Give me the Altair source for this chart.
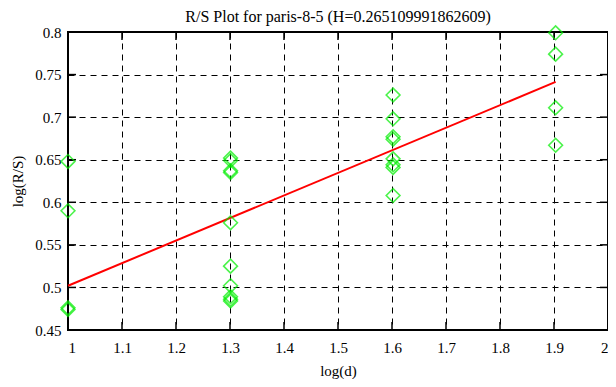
import altair as alt
import pandas as pd

# Data
x_vals = [1.0, 1.0, 1.0, 1.0,
          1.301, 1.301, 1.301, 1.301, 1.301, 1.301, 1.301, 1.301, 1.301, 1.301,
          1.602, 1.602, 1.602, 1.602, 1.602, 1.602, 1.602, 1.602,
          1.903, 1.903, 1.903, 1.903]
y_vals = [0.648, 0.590, 0.476, 0.474,
          0.652, 0.649, 0.637, 0.635, 0.576, 0.525, 0.502, 0.489, 0.486, 0.484,
          0.726, 0.698, 0.677, 0.674, 0.651, 0.644, 0.641, 0.608,
          0.799, 0.774, 0.711, 0.667]
line_x = [1.0, 1.903]
line_y = [0.502, 0.7414]
x_ticks = [1.0, 1.1, 1.2, 1.3, 1.4, 1.5, 1.6, 1.7, 1.8, 1.9, 2.0]
y_ticks = [0.45, 0.5, 0.55, 0.6, 0.65, 0.7, 0.75, 0.8]

pts = pd.DataFrame({"x": x_vals, "y": y_vals})
ln = pd.DataFrame({"x": line_x, "y": line_y})
xt = pd.DataFrame({"t": x_ticks})
yt = pd.DataFrame({"t": y_ticks})

W, H = 540, 298
FONT = "Liberation Serif"

xscale = alt.Scale(domain=[1, 2], nice=False, zero=False)
yscale = alt.Scale(domain=[0.45, 0.8], nice=False, zero=False)

common = dict(grid=True, gridColor="black", gridDash=[6, 5], gridWidth=1,
              ticks=False, domain=False, labelFont=FONT, titleFont=FONT,
              labelFontSize=15, titleFontSize=15, labelColor="black",
              titleColor="black", titleFontWeight="normal", format="~g")
xaxis = alt.Axis(values=x_ticks, title="log(d)", labelPadding=10,
                 titlePadding=8, **common)
yaxis = alt.Axis(values=y_ticks, title="log(R/S)", labelPadding=7,
                 titlePadding=9, **common)

points = alt.Chart(pts).mark_point(
    shape="diamond", filled=False, color="#00ee00", size=190, strokeWidth=1.6
).encode(
    x=alt.X("x:Q", scale=xscale, axis=xaxis),
    y=alt.Y("y:Q", scale=yscale, axis=yaxis),
)

line = alt.Chart(ln).mark_line(color="red", strokeWidth=2).encode(
    x=alt.X("x:Q", scale=xscale),
    y=alt.Y("y:Q", scale=yscale),
)

tick_len = 8
bt = alt.Chart(xt).mark_rule(color="black", strokeWidth=1.5).encode(
    x=alt.X("t:Q", scale=xscale), y=alt.value(H), y2=alt.value(H - tick_len))
tt = alt.Chart(xt).mark_rule(color="black", strokeWidth=1.5).encode(
    x=alt.X("t:Q", scale=xscale), y=alt.value(0), y2=alt.value(tick_len))
lt = alt.Chart(yt).mark_rule(color="black", strokeWidth=1.5).encode(
    y=alt.Y("t:Q", scale=yscale), x=alt.value(0), x2=alt.value(tick_len))
rt = alt.Chart(yt).mark_rule(color="black", strokeWidth=1.5).encode(
    y=alt.Y("t:Q", scale=yscale), x=alt.value(W), x2=alt.value(W - tick_len))

chart = alt.layer(bt, tt, lt, rt, line, points).properties(
    width=W, height=H,
    background="white",
    title=alt.TitleParams("R/S Plot for paris-8-5 (H=0.265109991862609)",
                          font=FONT, fontSize=16, fontWeight="normal",
                          color="black", offset=0, dy=2, anchor="middle"),
    autosize=alt.AutoSizeParams(type="none"),
    padding={"left": 60, "top": 24, "right": 0, "bottom": 49},
).configure_view(
    stroke="black", strokeWidth=2
)

chart.save("out.html", embed_options={"renderer": "svg", "actions": False})
